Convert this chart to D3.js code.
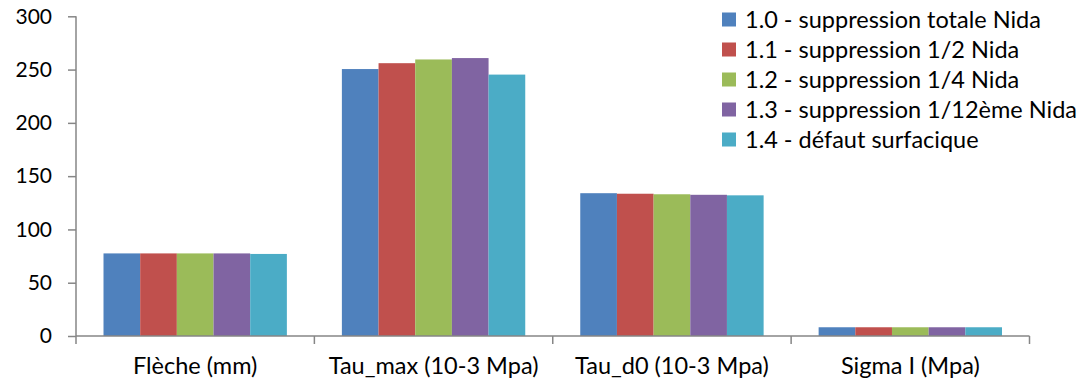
<!DOCTYPE html>
<html>
<head>
<meta charset="utf-8">
<script src="https://cdn.jsdelivr.net/npm/d3@7"></script>
<style>
  html, body { margin: 0; padding: 0; background: #fff; }
  svg { display: block; }
  text { font-family: Lato, "Open Sans", sans-serif; fill: #000; }
</style>
</head>
<body>
<svg id="chart" width="1091" height="385"></svg>
<script>
const categories = ["Flèche (mm)", "Tau_max (10-3 Mpa)", "Tau_d0 (10-3 Mpa)", "Sigma I (Mpa)"];
const seriesNames = [
  "1.0 - suppression totale Nida",
  "1.1 - suppression 1/2 Nida",
  "1.2 - suppression 1/4 Nida",
  "1.3 - suppression 1/12ème Nida",
  "1.4 - défaut surfacique"
];
const s10 = [77.5, 250.5, 134, 8.2];
const s11 = [77.5, 256, 133.5, 8.2];
const s12 = [77.5, 259.5, 133, 8.2];
const s13 = [77.5, 260.8, 132.5, 8.2];
const s14 = [77, 245.3, 132, 8.2];
const seriesValues = [s10, s11, s12, s13, s14];
const colors = ["#4F81BD", "#C0504D", "#9BBB59", "#8064A2", "#4BACC6"];
const yTicks = [0, 50, 100, 150, 200, 250, 300];

const svg = d3.select("#chart");
const m = { left: 76, right: 1029.5, top: 16.3, bottom: 336 };

const x0 = d3.scaleBand().domain(categories).range([m.left, m.right]).paddingInner(0).paddingOuter(0);
const x1 = d3.scaleBand().domain(d3.range(seriesNames.length))
  .range([0, x0.bandwidth()]).paddingInner(0).paddingOuter(0.75);
const y = d3.scaleLinear().domain([0, 300]).range([m.bottom, m.top]);

const axisColor = "#868686";
const labelSize = 23.5;
const yLabelSize = 21;

// Bars
categories.forEach((c, ci) => {
  seriesValues.forEach((vals, si) => {
    svg.append("rect")
      .attr("x", x0(c) + x1(si))
      .attr("y", y(vals[ci]))
      .attr("width", x1.bandwidth())
      .attr("height", y(0) - y(vals[ci]))
      .attr("fill", colors[si]);
  });
});

// Y axis
const yAxis = svg.append("g").attr("transform", `translate(${m.left},0)`)
  .call(d3.axisLeft(y).tickValues(yTicks).tickSize(8).tickPadding(16).tickFormat(d3.format("d")));
yAxis.selectAll("path, line").attr("stroke", axisColor).attr("stroke-width", 1.5);
yAxis.select(".domain").attr("d", `M0,${m.top}V${m.bottom}`);
yAxis.selectAll("text").attr("font-size", yLabelSize).attr("font-family", "Lato").attr("fill", "#000");

// X axis
const xAxis = svg.append("g").attr("transform", `translate(0,${m.bottom})`)
  .call(d3.axisBottom(x0).tickSize(0).tickPadding(21));
xAxis.select(".domain").attr("stroke", axisColor).attr("stroke-width", 1.5).attr("d", `M${m.left},0H${m.right}`);
xAxis.selectAll("text").attr("font-size", labelSize).attr("font-family", "Lato").attr("fill", "#000");
// boundary ticks between categories
const bounds = categories.map(c => x0(c)).concat([m.right]);
svg.append("g").selectAll("line").data(bounds).join("line")
  .attr("x1", d => d).attr("x2", d => d)
  .attr("y1", m.bottom).attr("y2", m.bottom + 8)
  .attr("stroke", axisColor).attr("stroke-width", 1.5);

// Legend
const legend = svg.append("g").attr("transform", "translate(722,12.5)");
seriesNames.forEach((name, i) => {
  const g = legend.append("g").attr("transform", `translate(0,${i * 30})`);
  g.append("rect").attr("x", 0).attr("y", 0).attr("width", 14).attr("height", 14).attr("fill", colors[i]);
  g.append("text").attr("x", 23).attr("y", 7).attr("dy", "0.35em")
    .attr("font-size", labelSize).text(name);
});
</script>
</body>
</html>
